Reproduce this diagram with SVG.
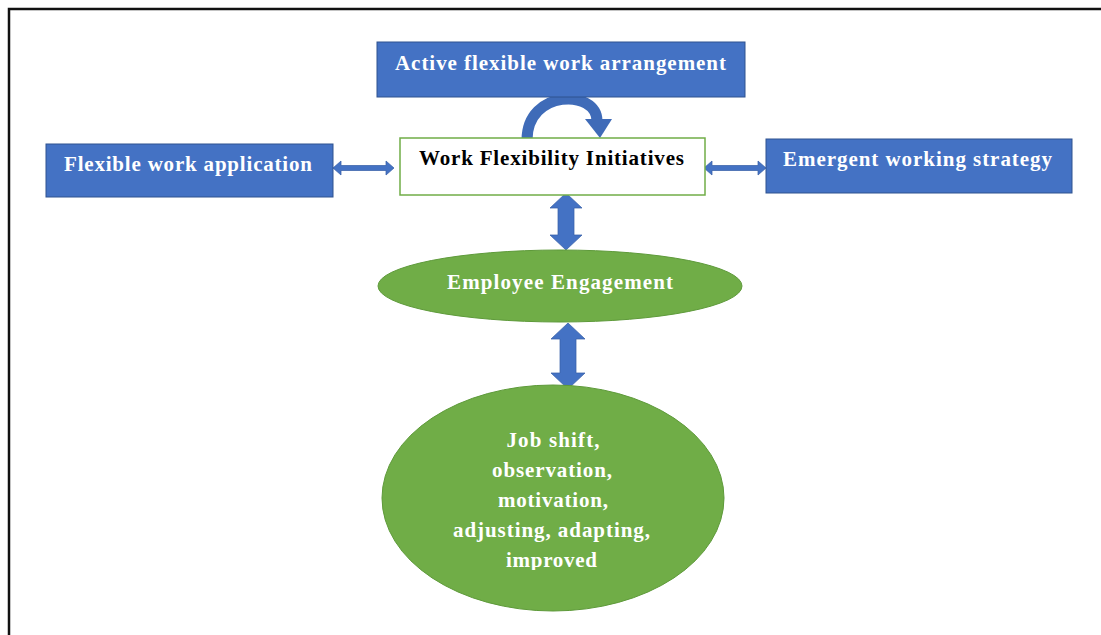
<svg xmlns="http://www.w3.org/2000/svg" width="1101" height="635" viewBox="0 0 1101 635">
<style>
.box{fill:#4472C4;stroke:#2F528F;stroke-width:1}
.cbox{fill:#FFFFFF;stroke:#70AD47;stroke-width:1.5}
.ell{fill:#70AD47;stroke:#5E9A3A;stroke-width:1}
.arr{fill:#4472C4;stroke:#3A62A8;stroke-width:0.75}
.t{font-family:"Liberation Serif","Times New Roman",serif;font-weight:bold;font-size:21px;text-anchor:middle}
.w{fill:#FFFFFF}
.k{fill:#000000}
</style>
<defs>
<clipPath id="clipImp"><rect x="380" y="380" width="350" height="190"/></clipPath>
</defs>
<rect x="0" y="0" width="1101" height="635" fill="#FFFFFF"/>
<path d="M9,635 V9 H1101" fill="none" stroke="#111111" stroke-width="2.5"/>

<g id="connectors">
<path d="M527,140 C527,89 597,89 597,121" fill="none" stroke="#3F6BB8" stroke-width="11"/>
<polygon points="585,119 612,119 600,138" fill="#3F6BB8"/>
<polygon class="arr" points="333,168 341,161 341,165.5 386,165.5 386,161 394,168 386,175 386,170.5 341,170.5 341,175"/>
<polygon class="arr" points="704,168 712,161 712,165.5 758,165.5 758,161 766,168 758,175 758,170.5 712,170.5 712,175"/>
<polygon class="arr" points="566,193 582,208 574,208 574,235 582,235 566,250 550,235 558,235 558,208 550,208"/>
<polygon class="arr" points="568,323 585,339 576,339 576,373 585,373 568,389 551,373 560,373 560,339 551,339"/>
</g>

<g id="active">
<rect class="box" x="377" y="42" width="368" height="55"/>
<text class="t w" x="560.5" y="70" textLength="331" lengthAdjust="spacing">Active flexible work arrangement</text>
</g>

<g id="wfi">
<rect class="cbox" x="400" y="138" width="305" height="57"/>
<text class="t k" x="551.5" y="165" textLength="265" lengthAdjust="spacing">Work Flexibility Initiatives</text>
</g>

<g id="fwa">
<rect class="box" x="46" y="144" width="287" height="53"/>
<text class="t w" x="188" y="171" textLength="248" lengthAdjust="spacing">Flexible work application</text>
</g>

<g id="ews">
<rect class="box" x="766" y="139" width="306" height="54"/>
<text class="t w" x="917.5" y="166" textLength="269" lengthAdjust="spacing">Emergent working strategy</text>
</g>

<g id="ee">
<ellipse class="ell" cx="560" cy="286" rx="182" ry="36"/>
<text class="t w" x="560" y="289" textLength="226" lengthAdjust="spacing">Employee Engagement</text>
</g>

<g id="outcomes">
<ellipse class="ell" cx="553" cy="498" rx="171" ry="113"/>
<g clip-path="url(#clipImp)">
<text class="t w" x="553" y="447" textLength="93" lengthAdjust="spacing">Job shift,</text>
<text class="t w" x="552" y="477" textLength="120" lengthAdjust="spacing">observation,</text>
<text class="t w" x="553" y="507" textLength="110" lengthAdjust="spacing">motivation,</text>
<text class="t w" x="551.5" y="537" textLength="197" lengthAdjust="spacing">adjusting, adapting,</text>
<text class="t w" x="551.5" y="567" textLength="91" lengthAdjust="spacing">improved</text>
</g>
</g>
</svg>
